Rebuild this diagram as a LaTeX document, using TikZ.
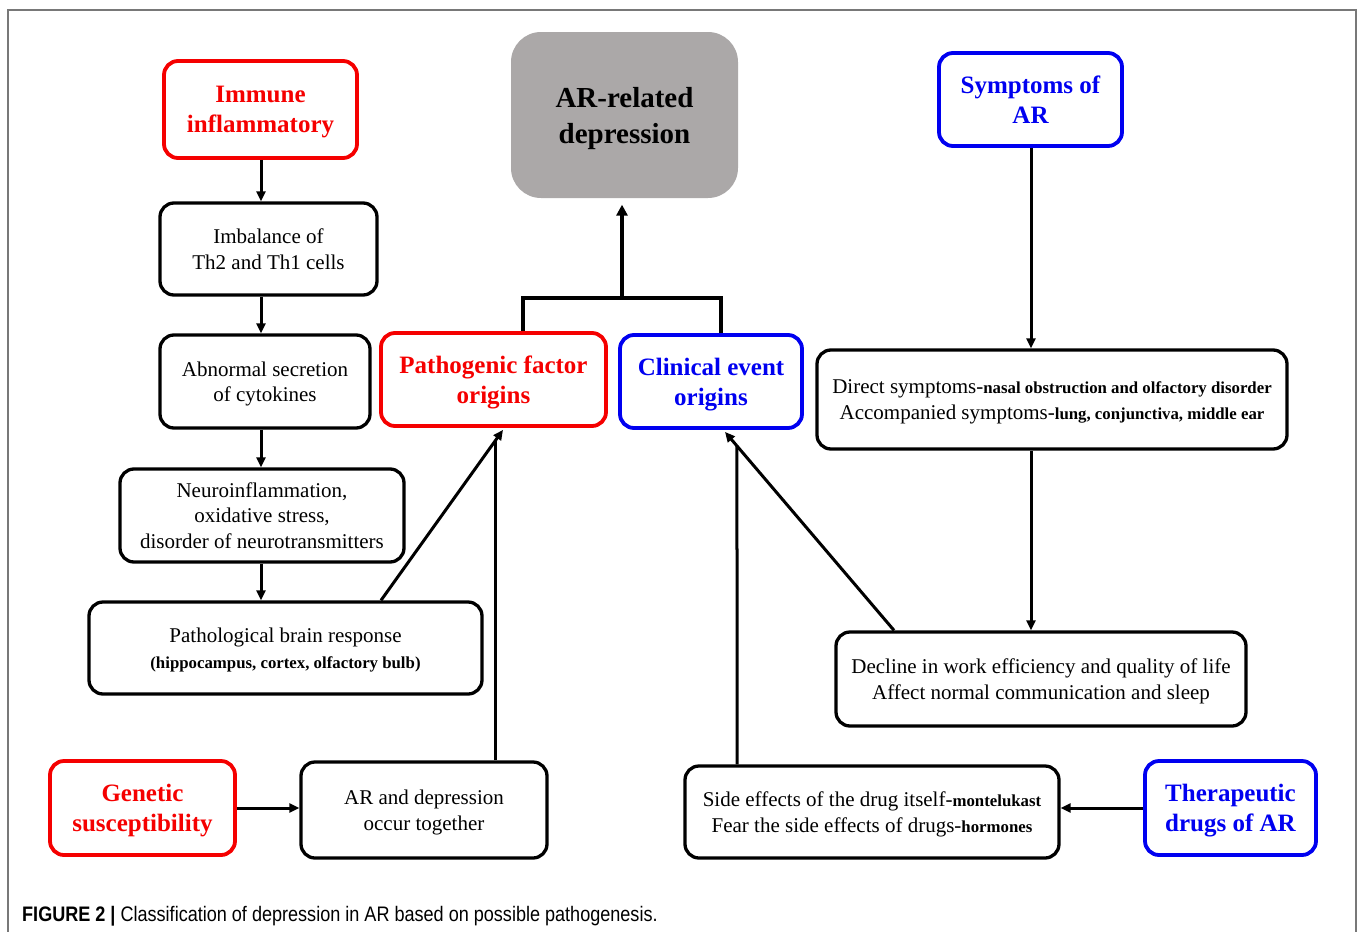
\documentclass[tikz,border=0pt]{standalone}
\usepackage{fontspec}
\setmainfont{Liberation Serif}
\newfontfamily\capfont[FakeStretch=0.86]{Liberation Sans}
\usetikzlibrary{arrows.meta,calc}
\definecolor{myred}{RGB}{245,0,0}
\definecolor{myblue}{RGB}{0,0,240}
\definecolor{mygray}{RGB}{171,168,168}
\definecolor{framegray}{RGB}{120,120,120}
\newcommand{\smb}[1]{{\fontsize{16.8}{20}\selectfont\bfseries #1}}
\begin{document}
\begin{tikzpicture}[x=1pt,y=-1pt,
  box/.style={draw=black, line width=3.3pt, rounded corners=14pt, align=center,
    font=\fontsize{21}{25.5}\selectfont, inner sep=0pt, fill=white, text depth=-3pt},
  redbox/.style={box, draw=myred, line width=3.8pt, text=myred,
    font=\fontsize{25}{30}\selectfont\bfseries},
  bluebox/.style={box, draw=myblue, line width=3.8pt, text=myblue,
    font=\fontsize{25}{30}\selectfont\bfseries},
  arr/.style={line width=3pt, -{Triangle[length=10pt,width=9pt]}},
  plain/.style={line width=3pt},
  bracket/.style={line width=4.2pt}]
\useasboundingbox (0,0) rectangle (1358,932);
% frame
\draw[framegray, line width=1.5pt] (8,940) -- (8,10) -- (1356,10) -- (1356,940);

% nodes
\node[box, draw=none, fill=mygray, rounded corners=30pt, minimum width=227pt, minimum height=166pt,
  font=\fontsize{29}{36}\selectfont\bfseries, text depth=-5pt] (dep) at (624.5,115) {AR-related\\depression};

\node[redbox, minimum width=193pt, minimum height=97pt] (imm) at (260.5,109.5) {Immune\\inflammatory};
\node[box, minimum width=217pt, minimum height=92pt] (imb) at (268.5,249) {Imbalance of\\Th2 and Th1 cells};
\node[box, minimum width=210pt, minimum height=93pt] (abn) at (265,381.5) {Abnormal secretion\\of cytokines};
\node[box, minimum width=284pt, minimum height=93pt] (neu) at (262,515.5) {Neuroinflammation,\\oxidative stress,\\disorder of neurotransmitters};
\node[box, minimum width=393pt, minimum height=92pt] (pat) at (285.5,648) {Pathological brain response\\\smb{(hippocampus, cortex, olfactory bulb)}};
\node[redbox, minimum width=185pt, minimum height=94pt] (gen) at (142.5,808) {Genetic\\susceptibility};
\node[box, minimum width=246pt, minimum height=96pt] (tog) at (424,810) {AR and depression\\occur together};

\node[redbox, minimum width=225pt, minimum height=93pt] (pfo) at (493.5,379.5) {Pathogenic factor\\origins};
\node[bluebox, minimum width=182pt, minimum height=93pt] (ceo) at (711,381.5) {Clinical event\\origins};

\node[bluebox, minimum width=183pt, minimum height=93pt] (sym) at (1030.5,99.5) {Symptoms of\\AR};
\node[box, minimum width=470pt, minimum height=99pt] (dir) at (1052,399.5) {Direct symptoms-\smb{nasal obstruction and olfactory disorder}\\Accompanied symptoms-\smb{lung, conjunctiva, middle ear}};
\node[box, minimum width=410pt, minimum height=94pt] (dec) at (1041,679) {Decline in work efficiency and quality of life\\Affect normal communication and sleep};
\node[box, minimum width=374pt, minimum height=92pt] (sid) at (872,812) {Side effects of the drug itself-\smb{montelukast}\\Fear the side effects of drugs-\smb{hormones}};
\node[bluebox, minimum width=171pt, minimum height=94pt] (the) at (1230.5,808) {Therapeutic\\drugs of AR};

% caption
\node[anchor=base west, inner sep=0pt, font=\fontsize{21}{25}\capfont] (cap) at (22,921)
  {\textbf{FIGURE 2 |} Classification of depression in AR based on possible pathogenesis.};

% left chain
\draw[arr] (imm.south -| 261,0) -- (imb.north -| 261,0);
\draw[arr] (imb.south -| 261,0) -- (abn.north -| 261,0);
\draw[arr] (abn.south -| 261,0) -- (neu.north -| 261,0);
\draw[arr] (neu.south -| 261,0) -- (pat.north -| 261,0);

% to pathogenic factor origins
\coordinate (pA) at (pat.north -| 381,0);
\coordinate (pB) at ($(pfo.south -| 503,0)+(0,2)$);
\draw[arr] (pA) -- (pB);
\draw[plain] (tog.north -| 495,0) -- (intersection of pA--pB and {495,0}--{495,1000});

% bracket
\coordinate (bl) at (523,298);
\coordinate (br) at (721,298);
\draw[bracket] (pfo.north -| bl) |- (br) -- (ceo.north -| br);
\draw[bracket, -{Triangle[length=11pt,width=11pt]}] (622,298) -- ($(dep.south -| 622,0)+(0,5)$);

% right side
\draw[arr] (sym.south -| 1031,0) -- (dir.north -| 1031,0);
\draw[arr] (dir.south -| 1031,0) -- (dec.north -| 1031,0);
\coordinate (cA) at (dec.north -| 894,0);
\coordinate (cB) at ($(ceo.south -| 725,0)+(0,2)$);
\draw[arr] (cA) -- (cB);
\draw[plain] (sid.north -| 737,0) -- (intersection of cA--cB and {737,0}--{737,1000});

% horizontal arrows
\draw[arr] (gen.east) -- (gen.east -| tog.west);
\draw[arr] (the.west) -- (the.west -| sid.east);
\end{tikzpicture}
\end{document}
